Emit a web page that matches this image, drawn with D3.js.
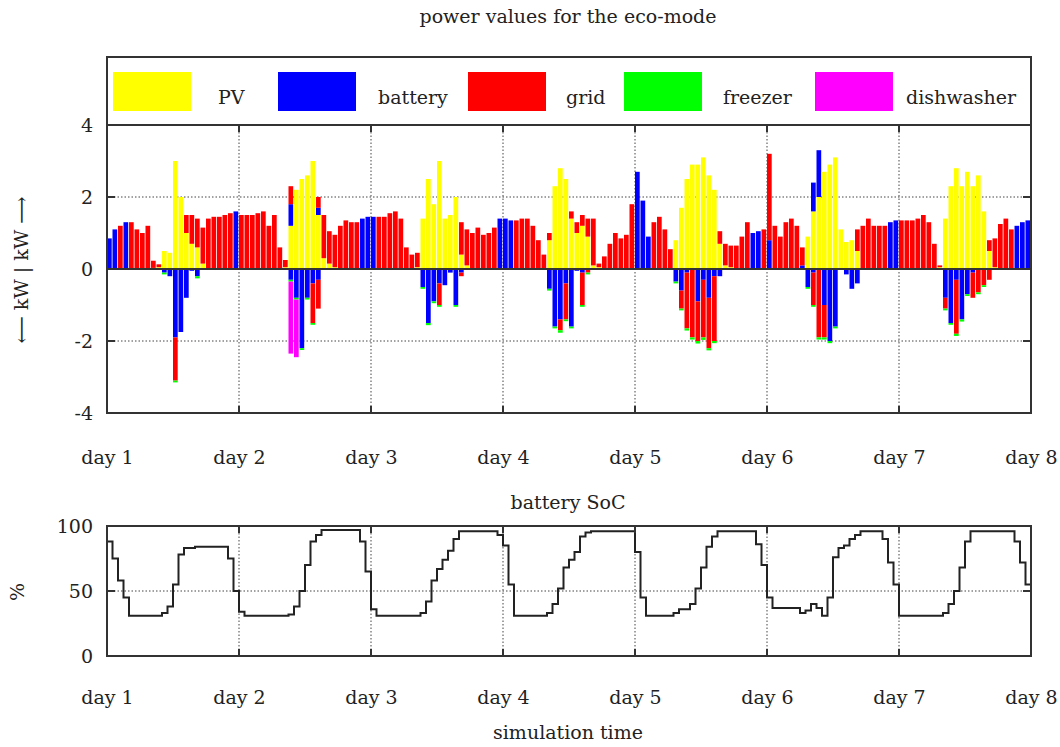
<!DOCTYPE html>
<html>
<head>
<meta charset="utf-8">
<script src="https://cdn.jsdelivr.net/npm/d3@7"></script>
<style>
  body { margin: 0; background: #fff; }
  text { font-family: "DejaVu Serif", serif; fill: #222; }
</style>
</head>
<body>
<div id="chart-area"></div>
<script>
// hourly values, 7 days x 24 h
var dayLabels = ['day 1', 'day 2', 'day 3', 'day 4', 'day 5', 'day 6', 'day 7', 'day 8'];
var powerTicks = [-4, -2, 0, 2, 4];
var powerTickLabels = ['-4', '-2', '0', '2', '4'];
var socTicks = [0, 50, 100];
var seriesNames = ['PV', 'battery', 'grid', 'freezer', 'dishwasher'];

var pv = [
    0,0,0,0,0,0,0,0,0.03,0.05,0.5,0.45,3.0,2.0,1.0,0.7,0.6,0.15,0,0,0,0,0,0,
    0,0,0,0,0,0,0,0,0.05,1.2,2.2,2.5,2.6,3.0,1.5,0.3,0.15,0.05,0,0,0,0,0,0,
    0,0,0,0,0,0,0,0,0.05,1.4,2.5,1.8,3.0,1.4,1.5,2.0,0.4,0.1,0,0,0,0,0,0,
    0,0,0,0,0,0,0,0,0.8,2.3,2.8,2.5,1.4,1.0,1.2,0.9,0.1,0.05,0,0,0,0,0,0,
    0,0,0,0,0,0,0,0.8,1.7,2.5,2.9,2.9,3.1,2.6,2.2,0.7,0.1,0.05,0,0,0,0,0,0,
    0,0,0,0,0,0,0,0.9,1.6,2.0,2.7,2.9,3.1,1.1,0.75,0.8,0.5,0,0,0,0,0,0,0,
    0,0,0,0,0,0,0,0.05,1.4,2.3,2.8,2.3,2.7,2.3,2.6,1.6,0.5,0.05,0,0,0,0,0,0
];
var batteryOut = [
    0.85,1.1,0,1.3,0,0,0,0,0,0,0,0,0,0,0,0,0,0,0,0,0,0,0,1.6,
    0,0,0,0,0,0,0,0,0,0.6,0,0,0,0,0.2,0,0,0,0,0,0,0,1.4,1.45,
    1.45,0,0,0,0,0,0,0,0,0,0,0,0,0,0,0,0,0,0,0,0,0,0,1.4,
    1.4,1.35,0,0,0,0,0,0,0,0,0,0,0,0,0,0,0,0,0,0,0,0,0,0,
    2.7,1.9,0.9,0,0,0,0,0,0,0,0,0,0,0,0,0,0,0,0,0,0,1.0,1.05,0,
    0.8,0,0,0,0,0,0.1,0,0.8,1.3,0,0,0,0,0,0,0,0,0,0,0,0,1.3,1.35,
    0,0,0,0,0,0,0,0,0,0,0,0,0,0,0,0,0,0,0,0,0,1.2,1.3,1.35
];
var gridIn = [
    0,0,1.2,0,1.3,1.1,1.0,1.2,0.2,0.08,0,0,0,0,0.5,0.8,0.8,1.0,1.4,1.45,1.45,1.5,1.55,0,
    1.5,1.5,1.5,1.55,1.6,1.2,1.5,0.6,0.2,0.5,0,0,0,0,0.3,1.2,0.9,0.9,1.2,1.35,1.3,1.3,0,0,
    0,1.45,1.45,1.55,1.6,1.4,0.6,0.4,0.4,0,0,0,0,0,0,0,0.9,1.0,1.0,1.15,0.95,1.0,1.15,0,
    0,0,1.35,1.4,1.4,1.2,0.8,0.4,0.2,0,0,0,0.2,0.3,0.3,0.5,1.3,0.1,0.35,0.7,1.0,0.85,0.95,1.8,
    0,0,0,1.3,1.45,1.1,0.55,0,0,0,0,0,0,0,0,0.35,0.6,0.6,0.65,0.9,1.3,0,0,1.1,
    2.4,1.2,0.9,1.3,1.4,1.2,0.5,0,0,0,0,0,0,0,0,0,0.6,1.2,1.4,1.2,1.2,1.2,0,0,
    1.35,1.35,1.35,1.4,1.5,1.3,0.7,0.05,0,0,0,0,0,0,0,0,0.3,0.8,1.25,1.4,1.1,0,0,0
];
var batteryIn = [
    0,0,0,0,0,0,0,0,0,0,-0.1,-0.2,-1.9,-1.75,-0.8,-0.05,-0.2,0,0,0,0,0,0,0,
    0,0,0,0,0,0,0,0,0,-0.3,-0.8,-2.2,-0.8,-0.4,-0.3,0,0,0,0,0,0,0,0,0,
    0,0,0,0,0,0,0,0,0,-0.5,-1.5,-0.9,-0.4,-0.45,-0.1,-1.0,-0.1,0,0,0,0,0,0,0,
    0,0,0,0,0,0,0,0,-0.55,-1.6,-1.4,-0.4,-1.6,-0.05,-0.1,0,0,0,0,0,0,0,0,0,
    0,0,0,0,0,0,0,-0.35,-0.6,-0.1,0,-0.9,-0.3,-0.8,-0.2,-0.2,0,0,0,0,0,0,0,0,
    0,0,0,0,0,0,0,-0.5,-0.1,0,-1.0,-2.0,-1.6,0,-0.15,-0.55,-0.4,0,0,0,0,0,0,0,
    0,0,0,0,0,0,0,0,-0.8,-1.5,-0.3,-1.4,-0.7,-0.1,0,0,0,0,0,0,0,0,0,0
];
var gridOut = [
    0,0,0,0,0,0,0,0,0,0,0,0,-1.2,0,0,0,0,0,0,0,0,0,0,0,
    0,0,0,0,0,0,0,0,0,0,0,0,0,-1.1,-0.8,0,0,0,0,0,0,0,0,0,
    0,0,0,0,0,0,0,0,0,0,0,0,-0.6,0,0,0,-0.1,0,0,0,0,0,0,0,
    0,0,0,0,0,0,0,0,0,0,-0.3,-1.0,0,0,-0.9,-0.1,0,0,0,0,0,0,0,0,
    0,0,0,0,0,0,0,0,-0.5,-1.55,-1.9,-1.1,-1.6,-1.4,-1.8,0,0,0,0,0,0,0,0,0,
    0,0,0,0,0,0,0,0,-0.9,-1.9,-0.9,0,0,0,0,0,0,0,0,0,0,0,0,0,
    0,0,0,0,0,0,0,0,-0.3,0,-1.5,0,0,-0.7,-0.65,-0.45,-0.3,0,0,0,0,0,0,0
];
var freezer = [
    0,0,0,0,0,0,0,0,0,0,-0.05,0,-0.05,0,0,0,-0.06,0,0,0,0,0,0,0,
    0,0,0,0,0,0,0,0,0,-0.05,-0.05,-0.05,-0.05,-0.05,0,0,0,0,0,0,0,0,0,0,
    0,0,0,0,0,0,0,0,0,-0.05,-0.06,-0.05,-0.05,0,0,-0.05,0,0,0,0,0,0,0,0,
    0,0,0,0,0,0,0,0,-0.05,-0.05,-0.07,-0.05,-0.05,0,-0.05,-0.05,0,0,0,0,0,0,0,0,
    0,0,0,0,0,0,0,-0.05,-0.05,-0.06,-0.06,-0.07,-0.07,-0.06,-0.06,0,0,0,0,0,0,0,0,0,
    0,0,0,0,0,0,0,-0.05,-0.05,-0.06,-0.06,-0.06,-0.05,0,0,0,0,0,0,0,0,0,0,0,
    0,0,0,0,0,0,0,0,-0.05,-0.05,-0.06,-0.06,-0.05,0,-0.05,-0.05,0,0,0,0,0,0,0,0
];
var dishwasher = [
    0,0,0,0,0,0,0,0,0,0,0,0,0,0,0,0,0,0,0,0,0,0,0,0,
    0,0,0,0,0,0,0,0,0,-2.0,-1.6,0,0,0,0,0,0,0,0,0,0,0,0,0,
    0,0,0,0,0,0,0,0,0,0,0,0,0,0,0,0,0,0,0,0,0,0,0,0,
    0,0,0,0,0,0,0,0,0,0,0,0,0,0,0,0,0,0,0,0,0,0,0,0,
    0,0,0,0,0,0,0,0,0,0,0,0,0,0,0,0,0,0,0,0,0,0,0,0,
    0,0,0,0,0,0,0,0,0,0,0,0,0,0,0,0,0,0,0,0,0,0,0,0,
    0,0,0,0,0,0,0,0,0,0,0,0,0,0,0,0,0,0,0,0,0,0,0,0
];
var soc = [
    88,75,58,45,31,31,31,31,31,31,33,38,55,78,83,83,84,84,84,84,84,84,75,50,
    34,31,31,31,31,31,31,31,31,32,38,50,70,88,93,97,97,97,97,97,97,97,88,65,
    36,31,31,31,31,31,31,31,31,33,42,58,67,74,81,90,96,96,96,96,96,96,96,93,
    85,55,31,31,31,31,31,31,33,40,52,68,74,80,92,95,96,96,96,96,96,96,96,96,
    80,45,31,31,31,31,31,33,36,36,40,52,68,84,92,96,96,96,96,96,96,96,86,70,
    45,37,37,37,37,37,33,35,40,37,31,45,76,83,85,90,93,96,96,96,96,90,72,55,
    31,31,31,31,31,31,31,31,33,40,50,68,88,96,96,96,96,96,96,96,96,88,72,55
];
var socEnd = 37;

var colors = {
    pv: '#ffff00', batteryOut: '#0000ff', gridIn: '#ff0000',
    batteryIn: '#0000ff', gridOut: '#ff0000', freezer: '#00ff00', dishwasher: '#ff00ff'
};
var legendColors = ['#ffff00', '#0000ff', '#ff0000', '#00ff00', '#ff00ff'];
var frameColor = '#333';

var left = 107, right = 1031;
var svg = d3.select('#chart-area')
    .append('svg')
    .attr('width', 1060)
    .attr('height', 747);

var hours = pv.length;
var x = d3.scaleLinear().domain([0, hours]).range([left, right]);
var yP = d3.scaleLinear().domain([-4, 4]).range([413, 125]);
var yS = d3.scaleLinear().domain([0, 100]).range([656, 526]);

// title
svg.append('text')
    .attr('x', 568).attr('y', 23)
    .attr('text-anchor', 'middle')
    .attr('font-size', '19px')
    .text('power values for the eco-mode');

// legend
var legend = svg.append('g');
legend.append('rect')
    .attr('x', left).attr('y', 57)
    .attr('width', right - left).attr('height', 68)
    .attr('fill', 'none').attr('stroke', frameColor).attr('stroke-width', 2);
var swatchX = [113, 278, 468, 624, 815];
var textX = [218, 378, 566, 723, 906];
seriesNames.forEach((name, i) => {
    legend.append('rect')
        .attr('x', swatchX[i]).attr('y', 72)
        .attr('width', 78).attr('height', 39)
        .attr('fill', legendColors[i]);
    legend.append('text')
        .attr('x', textX[i]).attr('y', 104)
        .attr('font-size', '19px')
        .text(name);
});

// ---------- power chart ----------
var gP = svg.append('g');

// grid
gP.append('g')
    .selectAll('line.h')
    .data([-2, 2])
    .enter().append('line')
    .attr('x1', left).attr('x2', right)
    .attr('y1', d => yP(d)).attr('y2', d => yP(d))
    .attr('stroke', '#444').attr('stroke-width', 1).attr('stroke-dasharray', '1.5,2');
gP.append('g')
    .selectAll('line.v')
    .data(d3.range(1, 7))
    .enter().append('line')
    .attr('x1', d => x(d * 24)).attr('x2', d => x(d * 24))
    .attr('y1', yP(4)).attr('y2', yP(-4))
    .attr('stroke', '#444').attr('stroke-width', 1).attr('stroke-dasharray', '1.5,2');

var keys = ['pv', 'batteryOut', 'gridIn', 'batteryIn', 'gridOut', 'freezer', 'dishwasher'];
var rows = d3.range(hours).map(i => ({
    hour: i,
    pv: pv[i], batteryOut: batteryOut[i], gridIn: gridIn[i],
    batteryIn: batteryIn[i], gridOut: gridOut[i],
    freezer: freezer[i], dishwasher: dishwasher[i]
}));
var stacked = d3.stack().keys(keys).offset(d3.stackOffsetDiverging)(rows);
var barW = x(1) - x(0) - 0.8;

gP.selectAll('g.layer')
    .data(stacked)
    .enter().append('g')
    .attr('fill', d => colors[d.key])
    .selectAll('rect')
    .data(d => d.filter(p => p[1] !== p[0]))
    .enter().append('rect')
    .attr('x', d => x(d.data.hour))
    .attr('y', d => yP(Math.max(d[0], d[1])))
    .attr('width', barW)
    .attr('height', d => Math.abs(yP(d[0]) - yP(d[1])));

// zero line
gP.append('line')
    .attr('x1', left).attr('x2', right)
    .attr('y1', yP(0)).attr('y2', yP(0))
    .attr('stroke', frameColor).attr('stroke-width', 2);

// ticks
powerTicks.forEach(t => {
    gP.append('line').attr('x1', left).attr('x2', left + 8)
        .attr('y1', yP(t)).attr('y2', yP(t)).attr('stroke', frameColor).attr('stroke-width', 2);
    gP.append('line').attr('x1', right - 8).attr('x2', right)
        .attr('y1', yP(t)).attr('y2', yP(t)).attr('stroke', frameColor).attr('stroke-width', 2);
});
d3.range(1, 7).forEach(d => {
    gP.append('line').attr('x1', x(d * 24)).attr('x2', x(d * 24))
        .attr('y1', yP(-4)).attr('y2', yP(-4) - 7).attr('stroke', frameColor).attr('stroke-width', 2);
    gP.append('line').attr('x1', x(d * 24)).attr('x2', x(d * 24))
        .attr('y1', yP(4)).attr('y2', yP(4) + 7).attr('stroke', frameColor).attr('stroke-width', 2);
});

// frame
gP.append('rect')
    .attr('x', left).attr('y', yP(4))
    .attr('width', right - left).attr('height', yP(-4) - yP(4))
    .attr('fill', 'none').attr('stroke', frameColor).attr('stroke-width', 2);

// axes labels
var yAxisP = d3.axisLeft(yP).tickValues(powerTicks).tickSize(0).tickPadding(14)
    .tickFormat((d, i) => powerTickLabels[i]);
gP.append('g')
    .attr('transform', `translate(${left}, 0)`)
    .call(yAxisP)
    .call(g => g.select('.domain').remove())
    .selectAll('text')
    .attr('font-family', '"DejaVu Serif", serif')
    .attr('font-size', '19px')
    .attr('fill', '#222');

var xAxisP = d3.axisBottom(x).tickValues(d3.range(0, hours + 1, 24)).tickSize(0).tickPadding(0)
    .tickFormat((d, i) => dayLabels[i]);
gP.append('g')
    .attr('transform', `translate(0, 450)`)
    .call(xAxisP)
    .call(g => g.select('.domain').remove())
    .selectAll('text')
    .attr('font-family', '"DejaVu Serif", serif')
    .attr('font-size', '19px')
    .attr('fill', '#222');

svg.append('text')
    .attr('transform', 'rotate(-90)')
    .attr('x', -270).attr('y', 28)
    .attr('text-anchor', 'middle')
    .attr('font-size', '19px')
    .text('\u27F5 kW | kW \u27F6');

// ---------- SoC chart ----------
var gS = svg.append('g');

svg.append('text')
    .attr('x', 568).attr('y', 509)
    .attr('text-anchor', 'middle')
    .attr('font-size', '19px')
    .text('battery SoC');

gS.append('line')
    .attr('x1', left).attr('x2', right)
    .attr('y1', yS(50)).attr('y2', yS(50))
    .attr('stroke', '#444').attr('stroke-width', 1).attr('stroke-dasharray', '1.5,2');
gS.append('g')
    .selectAll('line')
    .data(d3.range(1, 7))
    .enter().append('line')
    .attr('x1', d => x(d * 24)).attr('x2', d => x(d * 24))
    .attr('y1', yS(100)).attr('y2', yS(0))
    .attr('stroke', '#444').attr('stroke-width', 1).attr('stroke-dasharray', '1.5,2');

var socPoints = soc.map((v, i) => [i, v]);
socPoints.push([hours, socEnd]);
var line = d3.line()
    .x(d => x(d[0]))
    .y(d => yS(d[1]))
    .curve(d3.curveStepAfter);
gS.append('path')
    .datum(socPoints)
    .attr('d', line)
    .attr('fill', 'none')
    .attr('stroke', '#222')
    .attr('stroke-width', 2);

socTicks.forEach(t => {
    gS.append('line').attr('x1', left).attr('x2', left + 8)
        .attr('y1', yS(t)).attr('y2', yS(t)).attr('stroke', frameColor).attr('stroke-width', 2);
    gS.append('line').attr('x1', right - 8).attr('x2', right)
        .attr('y1', yS(t)).attr('y2', yS(t)).attr('stroke', frameColor).attr('stroke-width', 2);
});
d3.range(1, 7).forEach(d => {
    gS.append('line').attr('x1', x(d * 24)).attr('x2', x(d * 24))
        .attr('y1', yS(0)).attr('y2', yS(0) - 7).attr('stroke', frameColor).attr('stroke-width', 2);
    gS.append('line').attr('x1', x(d * 24)).attr('x2', x(d * 24))
        .attr('y1', yS(100)).attr('y2', yS(100) + 7).attr('stroke', frameColor).attr('stroke-width', 2);
});

gS.append('rect')
    .attr('x', left).attr('y', yS(100))
    .attr('width', right - left).attr('height', yS(0) - yS(100))
    .attr('fill', 'none').attr('stroke', frameColor).attr('stroke-width', 2);

var yAxisS = d3.axisLeft(yS).tickValues(socTicks).tickSize(0).tickPadding(14);
gS.append('g')
    .attr('transform', `translate(${left}, 0)`)
    .call(yAxisS)
    .call(g => g.select('.domain').remove())
    .selectAll('text')
    .attr('font-family', '"DejaVu Serif", serif')
    .attr('font-size', '19px')
    .attr('fill', '#222');

var xAxisS = d3.axisBottom(x).tickValues(d3.range(0, hours + 1, 24)).tickSize(0).tickPadding(0)
    .tickFormat((d, i) => dayLabels[i]);
gS.append('g')
    .attr('transform', `translate(0, 690)`)
    .call(xAxisS)
    .call(g => g.select('.domain').remove())
    .selectAll('text')
    .attr('font-family', '"DejaVu Serif", serif')
    .attr('font-size', '19px')
    .attr('fill', '#222');

svg.append('text')
    .attr('transform', 'rotate(-90)')
    .attr('x', -592).attr('y', 24)
    .attr('text-anchor', 'middle')
    .attr('font-size', '19px')
    .text('%');

svg.append('text')
    .attr('x', 568).attr('y', 739)
    .attr('text-anchor', 'middle')
    .attr('font-size', '19px')
    .text('simulation time');
</script>
</body>
</html>
